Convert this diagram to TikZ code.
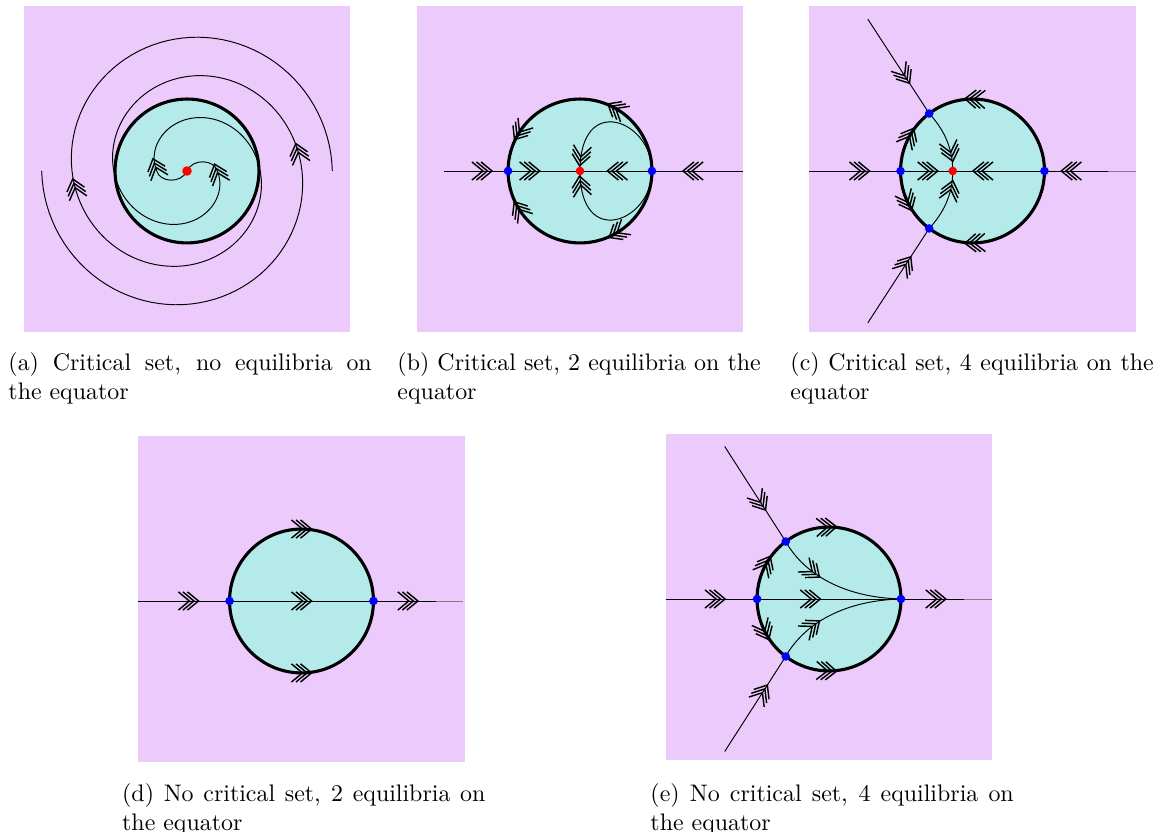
\documentclass[tikz,border=0pt]{standalone}
\hyphenpenalty=10000
\definecolor{lavender}{RGB}{237,202,252}
\definecolor{basin}{RGB}{180,234,233}

\tikzset{
  chev/.pic={
    \foreach \k in {-1,0,1}
      \draw[black, line width=0.6pt] (\k*1.9pt-2.3pt,3.8pt) -- (\k*1.9pt+2.3pt,0pt) -- (\k*1.9pt-2.3pt,-3.8pt);
  },
  flowtip/.style={pos=#1, sloped, allow upside down},
  panel/.style={x=30.1pt, y=30.1pt},
  sphere/.style={line width=1.3pt},
  captext/.style={anchor=north west, text width=152pt, align=justify, inner sep=0pt},
}

\begin{document}
\begin{tikzpicture}[x=0.4184pt, y=0.4184pt]
    \useasboundingbox (0,0) rectangle (1161,832);

    % (a) spirals into the critical point
    \begin{scope}[shift={(187,661)}, panel]
        \fill[lavender] (-2.27,-2.24) rectangle (2.27,2.29);
        \fill[basin] (0,0) circle (1);
        \coordinate (aO) at (0,0);
        \foreach \rot in {0,180} {
            \begin{scope}[rotate=\rot]
                \draw plot[domain=180:720, samples=160] (\x:{2.02-0.15*(\x-180)/45+0.2*(1-exp(-(\x-180)/81))})
                    .. controls (0.38,0.16) and (0.08,0.18) .. (aO);
                \pic[rotate=105.5] at (9:1.57) {chev};
                \pic[rotate=109] at (-5:0.43) {chev};
            \end{scope}
        }
        \draw[sphere] (aO) circle (1);
        \fill[red] (aO) circle (2pt);
    \end{scope}

    % (b) two equilibria, critical point in the middle
    \begin{scope}[shift={(580,661)}, panel]
        \fill[lavender] (-2.27,-2.24) rectangle (2.27,2.29);
        \fill[basin] (0,0) circle (1);
        \coordinate (bO) at (0,0);
        \coordinate (bL) at (-1,0);
        \coordinate (bR) at (1,0);
        \coordinate (bW) at (-1.885,0);
        \coordinate (bE) at (2.27,0);
        \draw (bW) -- (bL) pic[flowtip=0.59] {chev};
        \draw (bL) -- (bO) pic[flowtip=0.30] {chev};
        \draw (bR) -- (bO) pic[flowtip=0.48] {chev};
        \draw (bE) -- (bR) pic[flowtip=0.55] {chev};
        \draw (bR) .. controls (1,0.7) and (0,1.1) .. (bO) pic[flowtip=0.93] {chev};
        \draw (bR) .. controls (1,-0.7) and (0,-1.1) .. (bO) pic[flowtip=0.93] {chev};
        \draw[sphere] (bO) circle (1);
        \pic[rotate=149.5] at (59.5:1) {chev};
        \pic[rotate=236.5] at (146.5:1) {chev};
        \pic[rotate=123] at (213:1) {chev};
        \pic[rotate=211.6] at (301.6:1) {chev};
        \fill[blue] (bL) circle (1.8pt);
        \fill[blue] (bR) circle (1.8pt);
        \fill[red] (bO) circle (1.8pt);
    \end{scope}

    % (c) four equilibria, critical point off centre
    \begin{scope}[shift={(972.5,661)}, panel]
        \fill[lavender] (-2.27,-2.24) rectangle (2.27,2.29);
        \fill[basin] (0,0) circle (1);
        \coordinate (cO) at (-0.275,0);
        \coordinate (cL) at (-1,0);
        \coordinate (cR) at (1,0);
        \coordinate (cN) at (127:1);
        \coordinate (cS) at (233:1);
        \coordinate (cW) at (-2.27,0);
        \coordinate (cE) at (1.89,0);
        \coordinate (cNW) at (-1.455,2.11);
        \coordinate (cSW) at (-1.455,-2.11);
        \draw (cW) -- (cL) pic[flowtip=0.55] {chev};
        \draw (cL) -- (cO) pic[flowtip=0.52] {chev};
        \draw (cR) -- (cO) pic[flowtip=0.67] {chev};
        \draw (cE) -- (cR) pic[flowtip=0.58] {chev};
        \draw[gray] (2.27,0) -- (cE);
        \draw (cNW) -- (cN) pic[flowtip=0.59] {chev};
        \draw (cSW) -- (cS) pic[flowtip=0.61] {chev};
        \draw (cN) .. controls (-0.42,0.6) and (-0.275,0.35) .. (cO) pic[flowtip=0.72] {chev};
        \draw (cS) .. controls (-0.42,-0.6) and (-0.275,-0.35) .. (cO) pic[flowtip=0.72] {chev};
        \draw[sphere] (0,0) circle (1);
        \pic[rotate=178] at (88:1) {chev};
        \pic[rotate=62] at (152:1) {chev};
        \pic[rotate=295] at (205:1) {chev};
        \pic[rotate=182] at (272:1) {chev};
        \foreach \p in {cL,cR,cN,cS}
            \fill[blue] (\p) circle (1.8pt);
        \fill[red] (cO) circle (1.8pt);
    \end{scope}

    % (d) no critical set, two equilibria
    \begin{scope}[shift={(301.5,231)}, panel]
        \fill[lavender] (-2.27,-2.24) rectangle (2.27,2.29);
        \fill[basin] (0,0) circle (1);
        \coordinate (dL) at (-1,0);
        \coordinate (dR) at (1,0);
        \coordinate (dW) at (-2.27,0);
        \coordinate (dE) at (1.87,0);
        \draw (dW) -- (dL) pic[flowtip=0.55] {chev};
        \draw (dL) -- (dR) pic[flowtip=0.5] {chev};
        \draw (dR) -- (dE) pic[flowtip=0.55] {chev};
        \draw[gray] (dE) -- (2.24,0);
        \draw[sphere] (0,0) circle (1);
        \pic at (90:1) {chev};
        \pic at (270:1) {chev};
        \fill[blue] (dL) circle (1.8pt);
        \fill[blue] (dR) circle (1.8pt);
    \end{scope}

    % (e) no critical set, four equilibria
    \begin{scope}[shift={(829,233)}, panel]
        \fill[lavender] (-2.27,-2.24) rectangle (2.27,2.29);
        \fill[basin] (0,0) circle (1);
        \coordinate (eL) at (-1,0);
        \coordinate (eR) at (1,0);
        \coordinate (eN) at (127:1);
        \coordinate (eS) at (233:1);
        \coordinate (eW) at (-2.27,0);
        \coordinate (eE) at (1.88,0);
        \coordinate (eNW) at (-1.45,2.12);
        \coordinate (eSW) at (-1.45,-2.12);
        \draw (eW) -- (eL) pic[flowtip=0.54] {chev};
        \draw (eL) -- (eR) pic[flowtip=0.37] {chev};
        \draw (eR) -- (eE) pic[flowtip=0.55] {chev};
        \draw[gray] (eE) -- (2.27,0);
        \draw (eNW) -- (eN) pic[flowtip=0.58] {chev};
        \draw (eSW) -- (eS) pic[flowtip=0.61] {chev};
        \draw (eN) .. controls (-0.35,0.35) and (0.2,0.02) .. (eR) pic[flowtip=0.34] {chev};
        \draw (eS) .. controls (-0.35,-0.35) and (0.2,-0.02) .. (eR) pic[flowtip=0.34] {chev};
        \draw[sphere] (0,0) circle (1);
        \pic[rotate=2] at (92:1) {chev};
        \pic[rotate=62] at (152:1) {chev};
        \pic[rotate=296] at (206:1) {chev};
        \pic[rotate=-2] at (268:1) {chev};
        \foreach \p in {eL,eR,eN,eS}
            \fill[blue] (\p) circle (1.8pt);
    \end{scope}

    % captions
    \node[captext] (capa) at (8,480) {(a) Critical set, no equilibria on\linebreak the equator};
    \node[captext] (capb) at (397,480) {(b) Critical set, 2 equilibria on the equator};
    \node[captext] (capc) at (790,480) {(c) Critical set, 4 equilibria on the equator};
    \node[captext] (capd) at (121.7,49) {(d) No critical set, 2 equilibria on the equator};
    \node[captext] (cape) at (650,49) {(e) No critical set, 4 equilibria on the equator};
\end{tikzpicture}
\end{document}
